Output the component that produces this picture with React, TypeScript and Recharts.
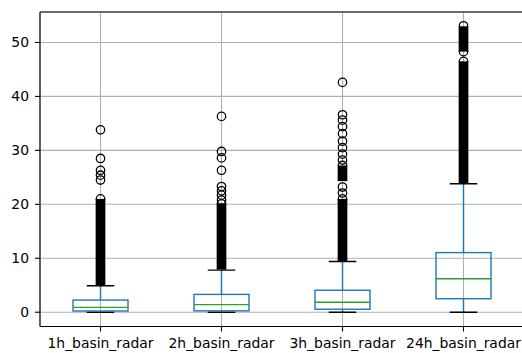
import { ComposedChart, Bar, Scatter, XAxis, YAxis, CartesianGrid, ReferenceLine } from "recharts";

const categories = ["1h_basin_radar", "2h_basin_radar", "3h_basin_radar", "24h_basin_radar"];
const whiskerLow = [0, 0, 0, 0];
const q1 = [0.22, 0.25, 0.55, 2.5];
const medians = [0.9, 1.4, 1.85, 6.2];
const q3 = [2.25, 3.3, 4.07, 11.05];
const whiskerHigh = [4.9, 7.8, 9.4, 23.8];

// stretches where the fliers overlap into a solid black column
const denseBands = [
  [[5.0, 21.0]],
  [[7.9, 20.1]],
  [[9.5, 21.0], [24.3, 27.2]],
  [[23.9, 46.5], [48.3, 53.0]],
];

// fliers that can still be told apart
const outliers = [
  [33.8, 28.5, 26.3, 25.4, 24.5, 21.0],
  [36.3, 29.8, 28.6, 26.3, 23.3, 22.5, 21.7, 20.8, 20.1],
  [42.6, 36.6, 35.6, 34.4, 33.1, 31.7, 30.5, 29.3, 28.2, 27.2, 23.2, 22.1, 21.0],
  [53.1, 48.3, 46.5],
];

const yTicks = [0, 10, 20, 30, 40, 50];
const yDomain = [-2.65, 55.65];

const rows = categories.map((name, i) => ({
  name,
  range: [whiskerLow[i], whiskerHigh[i]],
  low: whiskerLow[i],
  high: whiskerHigh[i],
  q1: q1[i],
  median: medians[i],
  q3: q3[i],
  bands: denseBands[i],
}));

const fliers = categories.flatMap((name, i) => outliers[i].map((value) => ({ name, value })));

const BLUE = "#1f77b4";
const GREEN = "#2ca02c";
const LW = 1.4;

function BoxShape(props: any) {
  const { x, y, width, height, payload } = props;
  const top = Math.min(y, y + height);
  const bottom = Math.max(y, y + height);
  const k = (bottom - top) / (payload.high - payload.low);
  const py = (v: number) => bottom - (v - payload.low) * k;
  const cx = x + width / 2;
  const cap = width / 4;
  const r = 4.85;
  return (
    <g>
      {payload.bands.map(([lo, hi]: number[], j: number) => (
        <rect key={j} x={cx - r} y={py(hi)} width={r * 2} height={py(lo) - py(hi)} fill="#000" />
      ))}
      <line x1={cx} x2={cx} y1={py(payload.q3)} y2={py(payload.high)} stroke={BLUE} strokeWidth={LW} />
      <line x1={cx} x2={cx} y1={py(payload.q1)} y2={py(payload.low)} stroke={BLUE} strokeWidth={LW} />
      <line x1={cx - cap} x2={cx + cap} y1={py(payload.high)} y2={py(payload.high)} stroke="#000" strokeWidth={LW} />
      <line x1={cx - cap} x2={cx + cap} y1={py(payload.low)} y2={py(payload.low)} stroke="#000" strokeWidth={LW} />
      <rect
        x={x}
        y={py(payload.q3)}
        width={width}
        height={py(payload.q1) - py(payload.q3)}
        fill="none"
        stroke={BLUE}
        strokeWidth={LW}
      />
      <line x1={x} x2={x + width} y1={py(payload.median)} y2={py(payload.median)} stroke={GREEN} strokeWidth={LW} />
    </g>
  );
}

const Flier = (p: any) => (
  <circle cx={p.cx} cy={p.cy} r={4.2} fill="none" stroke="#000" strokeWidth={1.3} />
);

const tickStyle = { fontFamily: "DejaVu Sans", fontSize: 13.9, fill: "#000" };

export default function App() {
  return (
    <div style={{ position: "absolute", left: 0, top: 0, width: 522, height: 353, overflow: "hidden", background: "#fff" }}>
      <ComposedChart width={530} height={353} data={rows} margin={{ top: 12, right: 6, bottom: 0, left: 0 }}>
        <CartesianGrid stroke="#b0b0b0" strokeWidth={1.1} />
        <XAxis
          dataKey="name"
          type="category"
          allowDuplicatedCategory={false}
          interval={0}
          height={26.5}
          tick={tickStyle}
          tickSize={5}
          tickMargin={6.5}
          tickLine={{ stroke: "#000", strokeWidth: 1.1 }}
          axisLine={{ stroke: "#000", strokeWidth: 1.1 }}
        />
        <YAxis
          type="number"
          domain={yDomain}
          ticks={yTicks}
          allowDataOverflow
          width={40}
          tick={tickStyle}
          tickSize={5}
          tickMargin={6}
          tickLine={{ stroke: "#000", strokeWidth: 1.1 }}
          axisLine={{ stroke: "#000", strokeWidth: 1.1 }}
        />
        <ReferenceLine y={yDomain[1]} stroke="#000" strokeWidth={1.1} />
        <Bar data={rows} dataKey="range" barSize={55} shape={BoxShape} isAnimationActive={false} />
        <Scatter data={fliers} dataKey="value" shape={Flier} isAnimationActive={false} />
      </ComposedChart>
    </div>
  );
}
